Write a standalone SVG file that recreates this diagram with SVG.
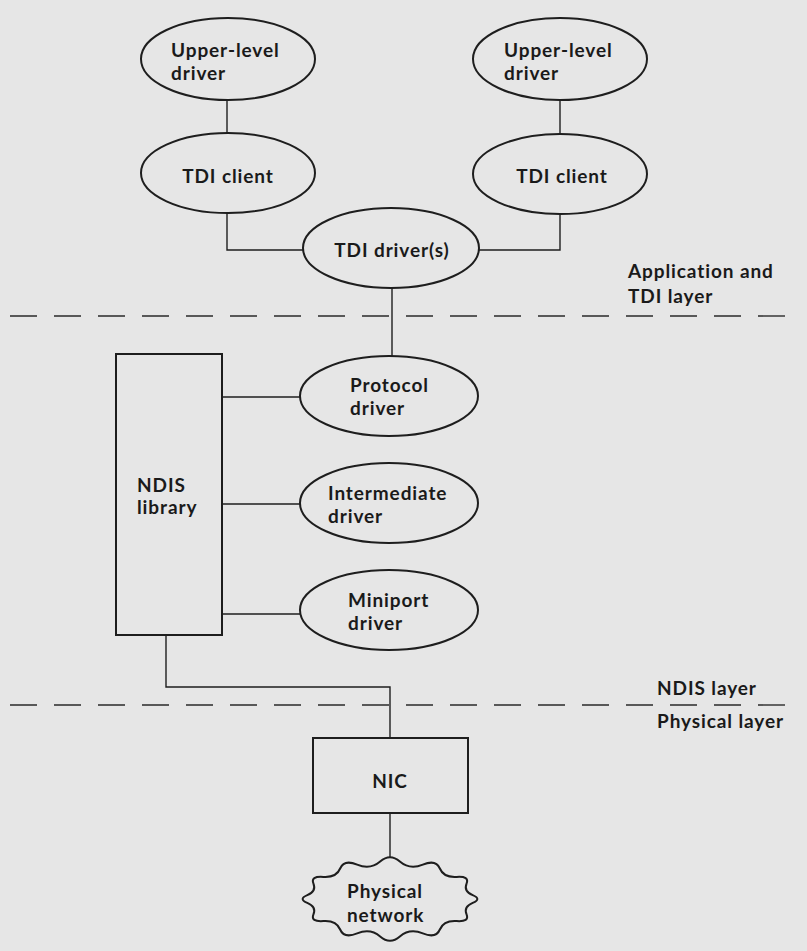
<svg xmlns="http://www.w3.org/2000/svg" width="807" height="951" viewBox="0 0 807 951">
<style>
.n{fill:none;stroke:#1e1e1e;stroke-width:2}
.c{fill:none;stroke:#1e1e1e;stroke-width:1.4}
.d{fill:none;stroke:#2a2a2a;stroke-width:1.4;stroke-dasharray:27 17}
text{font-family:Lato,"Open Sans","Liberation Sans",sans-serif;font-size:19px;font-weight:700;letter-spacing:0.9px;fill:#1a1a1a}
.m{text-anchor:middle}
</style>
<rect width="807" height="951" fill="#e6e6e6"/>
<g id="connectors">
<line class="c" x1="227" y1="100" x2="227" y2="133"/>
<line class="c" x1="560" y1="100" x2="560" y2="133"/>
<polyline class="c" points="227,213 227,250 303,250"/>
<polyline class="c" points="560,214 560,250 479,250"/>
<line class="c" x1="392" y1="288" x2="392" y2="356"/>
<line class="c" x1="222" y1="397" x2="300" y2="397"/>
<line class="c" x1="222" y1="504" x2="300" y2="504"/>
<line class="c" x1="222" y1="614" x2="300" y2="614"/>
<polyline class="c" points="166,635 166,687 390,687 390,738"/>
<line class="c" x1="390" y1="813" x2="390" y2="857"/>
</g>
<g id="layer-lines">
<line class="d" x1="10" y1="316" x2="790" y2="316"/>
<line class="d" x1="10" y1="705" x2="800" y2="705"/>
</g>
<g id="upper-level-driver-1">
<ellipse class="n" cx="228" cy="59" rx="87" ry="41"/>
<text x="171" y="57">Upper-level</text>
<text x="171" y="80">driver</text>
</g>
<g id="upper-level-driver-2">
<ellipse class="n" cx="560" cy="59" rx="87" ry="41"/>
<text x="504" y="57">Upper-level</text>
<text x="504" y="80">driver</text>
</g>
<g id="tdi-client-1">
<ellipse class="n" cx="228" cy="173" rx="87" ry="40"/>
<text class="m" x="228" y="183">TDI client</text>
</g>
<g id="tdi-client-2">
<ellipse class="n" cx="560" cy="174" rx="87" ry="40"/>
<text class="m" x="562" y="183">TDI client</text>
</g>
<g id="tdi-driver">
<ellipse class="n" cx="391" cy="248" rx="88" ry="40"/>
<text class="m" x="392" y="257">TDI driver(s)</text>
</g>
<g id="protocol-driver">
<ellipse class="n" cx="389" cy="396" rx="89" ry="40"/>
<text x="350" y="392">Protocol</text>
<text x="350" y="415">driver</text>
</g>
<g id="intermediate-driver">
<ellipse class="n" cx="389" cy="503" rx="89" ry="40"/>
<text x="328" y="500">Intermediate</text>
<text x="328" y="523">driver</text>
</g>
<g id="miniport-driver">
<ellipse class="n" cx="389" cy="610" rx="89" ry="40"/>
<text x="348" y="607">Miniport</text>
<text x="348" y="630">driver</text>
</g>
<g id="ndis-library">
<rect class="n" x="116" y="354" width="106" height="281"/>
<text x="137" y="492">NDIS</text>
<text x="137" y="514">library</text>
</g>
<g id="nic">
<rect class="n" x="313" y="738" width="155" height="75"/>
<text class="m" x="390" y="788">NIC</text>
</g>
<g id="physical-network">
<path class="n" d="M472.7,895.1 Q482,899 472.7,902.9 Q463.4,906.8 466.55,914.4 Q469.7,922 456.7,921.1 Q443.7,920.2 439.85,929.5 Q436,938.8 422.85,933.4 Q409.7,928 399.85,936.5 Q390,945 380.15,936.5 Q370.3,928 357.15,933.4 Q344,938.8 340.15,929.5 Q336.3,920.2 323.3,921.1 Q310.3,922 313.45,914.4 Q316.6,906.8 307.3,902.9 Q298,899 307.3,895.1 Q316.6,891.2 313.45,883.6 Q310.3,876 323.3,876.9 Q336.3,877.8 340.15,868.5 Q344,859.2 357.15,864.6 Q370.3,870 380.15,861.5 Q390,853 399.85,861.5 Q409.7,870 422.85,864.6 Q436,859.2 439.85,868.5 Q443.7,877.8 456.7,876.9 Q469.7,876 466.55,883.6 Q463.4,891.2 472.7,895.1 Z"/>
<text x="347" y="898">Physical</text>
<text x="347" y="922">network</text>
</g>
<g id="layer-labels">
<text x="628" y="278">Application and</text>
<text x="628" y="303">TDI layer</text>
<text x="657" y="695">NDIS layer</text>
<text x="657" y="728">Physical layer</text>
</g>
</svg>
